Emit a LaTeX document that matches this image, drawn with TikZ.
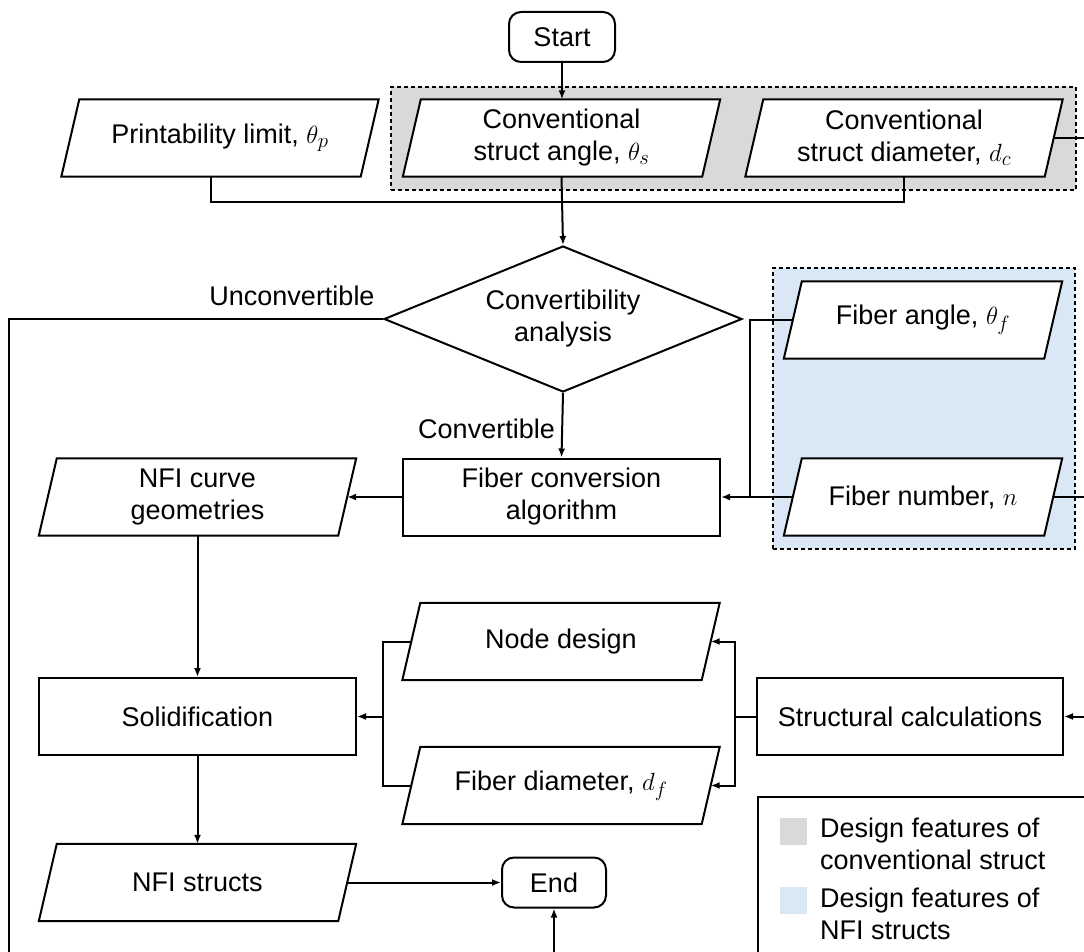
\documentclass[tikz,border=0pt]{standalone}
\usepackage{fontspec}
\setmainfont{Liberation Sans}
\DeclareMathSizes{27}{29}{22}{16}
\usetikzlibrary{shapes.geometric,arrows.meta,backgrounds}
\definecolor{grayfill}{RGB}{217,217,217}
\definecolor{bluefill}{RGB}{218,232,245}
\begin{document}
\begin{tikzpicture}[x=1pt,y=-1pt,
  font=\fontsize{27}{32}\selectfont,
  line/.style={line width=2pt},
  arr/.style={line width=2pt,-{Latex[length=9pt,width=7pt]}},
  proc/.style={draw,line width=2pt,fill=white,minimum width=317pt,minimum height=77pt,inner sep=0pt,align=center},
  io/.style={minimum width=299pt,minimum height=77pt,inner sep=0pt,align=center},
  iobox/.style={draw,line width=2pt,fill=white,line join=miter},
  term/.style={draw,line width=2pt,fill=white,rounded corners=12pt,minimum height=50pt,inner sep=0pt},
  dashbox/.style={draw,line width=1.8pt,dash pattern=on 4pt off 3pt,inner sep=0pt,anchor=north west}]
\useasboundingbox (0,0) rectangle (1084,952);
\clip (0,0) rectangle (1084,952);

% nodes
\node[term,minimum width=106pt] (start) at (562,37) {Start};
\node[io] (pl) at (220,138) {Printability limit, $\theta_p$};
\node[io] (ca) at (561.5,138) {Conventional\\struct angle, $\theta_s$};
\node[io] (cd) at (904,138) {Conventional\\struct diameter, $d_c$};
\node[diamond,draw,line width=2pt,minimum width=358pt,minimum height=146pt,inner sep=0pt,aspect=2.45,align=center] (dia) at (563,319) {Convertibility\\analysis};
\node (unc) at (292,296) {Unconvertible};
\node[anchor=east,inner sep=0pt] (conv) at (555,429) {Convertible};
\node[io,minimum width=260pt] (fa) at (923,320) {Fiber angle, $\theta_f$};
\node[io,minimum width=260pt] (fn) at (923,497) {Fiber number, $n$};
\node[proc] (fc) at (561.5,497) {Fiber conversion\\algorithm};
\node[io] (nc) at (197.5,497) {NFI curve\\geometries};
\node[proc] (sol) at (197.5,716.5) {Solidification};
\node[io] (nd) at (561,641.5) {Node design};
\node[io] (fd) at (561,785.5) {Fiber diameter, $d_f$};
\node[proc,minimum width=306pt] (sc) at (910,716.5) {Structural calculations};
\node[io] (ns) at (197.5,882.5) {NFI structs};
\node[term,minimum width=104pt] (end) at (554,882.5) {End};

% legend
\node[draw,line width=2pt,anchor=north west,minimum width=360pt,minimum height=220pt,inner sep=0pt] (leg) at (757,796) {};
\node[fill=grayfill,minimum size=27pt,inner sep=0pt] (lg1) at (793,831) {};
\node[fill=bluefill,minimum size=27pt,inner sep=0pt] (lg2) at (793,900) {};
\node[anchor=west,align=left,inner sep=0pt] (lt1) at (820,844) {Design features of\\conventional struct};
\node[anchor=west,align=left,inner sep=0pt] (lt2) at (820,914) {Design features of\\NFI structs};

% background: group boxes and parallelograms
\begin{scope}[on background layer]
  \node[dashbox,fill=grayfill,minimum width=685pt,minimum height=103pt] (gbox) at (390,86) {};
  \node[dashbox,fill=bluefill,minimum width=302pt,minimum height=281pt] (bbox) at (772,267) {};
  \foreach \n in {pl,ca,cd,fa,fn,nc,ns,nd,fd}
    \draw[iobox] ([xshift=9pt]\n.north west) -- ([xshift=9pt]\n.north east)
      -- ([xshift=-9pt]\n.south east) -- ([xshift=-9pt]\n.south west) -- cycle;
\end{scope}

% connectors
\coordinate (jn) at (562,202);
\coordinate (jf) at (750,497);
\coordinate (js) at (735,716.5);
\coordinate (jl) at (383,716.5);
\coordinate (rd) at (1100,138);
\coordinate (rn) at (1100,497);
\coordinate (rs) at (1100,716.5);
\coordinate (lo) at (9,1000);

\draw[arr] (start.south) -- (start.south |- ca.north);
\draw[line] ([xshift=-9pt]pl.south) |- (jn) -| (cd.south);
\draw[arr] (ca.south) -- (dia.north);
\draw[arr] (dia.west) -| (lo) -| (end.south);
\draw[arr] (dia.south) -- (fc.north);
\draw[line] (fa.west) -| (jf);
\draw[arr] (fn.west) -- (fc.east);
\draw[line] (cd.east) -- (rd);
\draw[line] (fn.east) -- (rn);
\draw[arr] (fc.west) -- (nc.east);
\draw[arr] (nc.south) -- (sol.north);
\draw[arr] (sol.south) -- (ns.north);
\draw[arr] (ns.east) -- (end.west);
\draw[arr] (rs) -- (sc.east);
\draw[line] (sc.west) -- (js);
\draw[arr] (js) |- (nd.east);
\draw[arr] (js) |- (fd.east);
\draw[line] (nd.west) -| (jl);
\draw[line] (fd.west) -| (jl);
\draw[arr] (jl) -- (sol.east);
\end{tikzpicture}
\end{document}
